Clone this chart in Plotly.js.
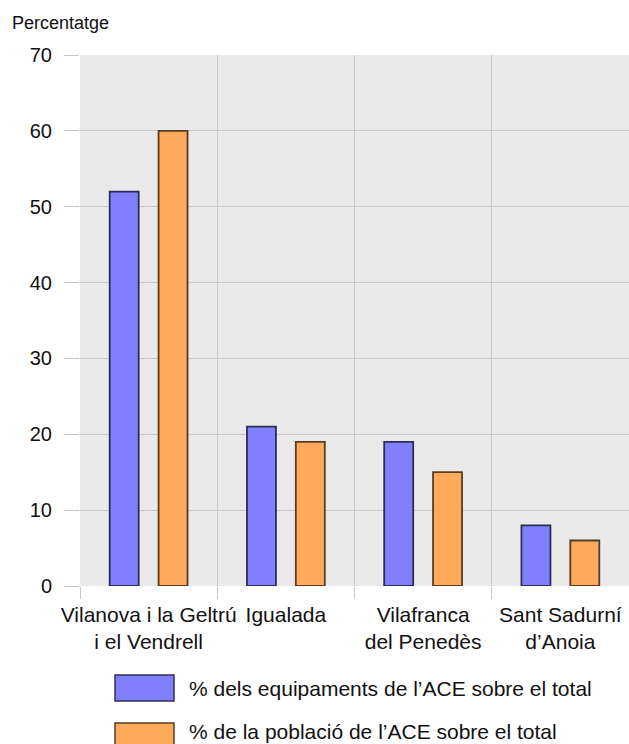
<!DOCTYPE html>
<html><head><meta charset="utf-8">
<script src="https://cdn.plot.ly/plotly-3.0.1.min.js"></script>
<style>html,body{margin:0;padding:0;background:#fff;overflow:hidden}</style>
</head><body><div id="chart" style="width:629px;height:744px"></div>
<script>
const categories = ["Vilanova i la Geltrú<br>i el Vendrell", "Igualada", "Vilafranca<br>del Penedès", "Sant Sadurní<br>d’Anoia"];
const equipaments = [52, 21, 19, 8];
const poblacio = [60, 19, 15, 6];
const seriesNames = ["% dels equipaments de l’ACE sobre el total", "% de la població de l’ACE sobre el total"];
const yTickValues = [0, 10, 20, 30, 40, 50, 60, 70];
const yAxisLabel = "Percentatge";

const colors = ["#8080ff", "#ffaa5a"];
const borders = ["#2c2c55", "#553c25"];
const FONT = "'Liberation Sans', Arial, Helvetica, sans-serif";

const traces = [equipaments, poblacio].map((vals, i) => ({
  type: "bar",
  name: seriesNames[i],
  x: categories,
  y: vals,
  marker: {color: colors[i], line: {color: borders[i], width: 1.8}},
  hoverinfo: "y"
}));

// custom legend (large swatches like the reference)
const legendRows = [
  {sy0: -0.1676, sy1: -0.2166, ty: -0.1921},
  {sy0: -0.258, sy1: -0.307, ty: -0.2731}
];
const shapes = legendRows.map((r, i) => ({
  type: "rect", xref: "paper", yref: "paper",
  x0: 0.0638, x1: 0.1712, y0: r.sy0, y1: r.sy1,
  fillcolor: colors[i], line: {color: borders[i], width: 1.5}
}));
const annotations = legendRows.map((r, i) => ({
  xref: "paper", yref: "paper", x: 0.1949, y: r.ty,
  xanchor: "left", yanchor: "middle", showarrow: false,
  text: seriesNames[i], font: {family: FONT, size: 21, color: "#111"}
}));

const layout = {
  width: 629, height: 744,
  margin: {l: 80, r: 0, t: 55, b: 158, pad: 0},
  paper_bgcolor: "#ffffff",
  plot_bgcolor: "#e9e9e9",
  showlegend: false,
  barmode: "group",
  bargap: 0.288,
  bargroupgap: 0.407,
  font: {family: FONT, color: "#111"},
  title: {
    text: yAxisLabel, xref: "container", yref: "container",
    x: 0.019, xanchor: "left", y: 0.97, yanchor: "middle",
    font: {family: FONT, size: 18, color: "#111"}
  },
  xaxis: {
    type: "category",
    tickson: "boundaries",
    tickangle: 0,
    ticks: "outside", ticklen: 12, tickcolor: "#c8c8c8", tickwidth: 1,
    showgrid: true, gridcolor: "#c8c8c8", gridwidth: 1,
    showline: false, zeroline: false,
    tickfont: {family: FONT, size: 21, color: "#111"},
    ticklabelstandoff: 14
  },
  yaxis: {
    range: [0, 70],
    tickvals: yTickValues,
    ticktext: yTickValues.map(String),
    ticks: "outside", ticklen: 15, tickcolor: "#c8c8c8", tickwidth: 1,
    showgrid: true, gridcolor: "#c8c8c8", gridwidth: 1,
    zeroline: false, showline: false,
    tickfont: {family: FONT, size: 20, color: "#111"},
    ticklabelstandoff: 8
  },
  shapes: shapes,
  annotations: annotations
};

Plotly.newPlot("chart", traces, layout, {displayModeBar: false, staticPlot: true});
</script>
</body></html>
